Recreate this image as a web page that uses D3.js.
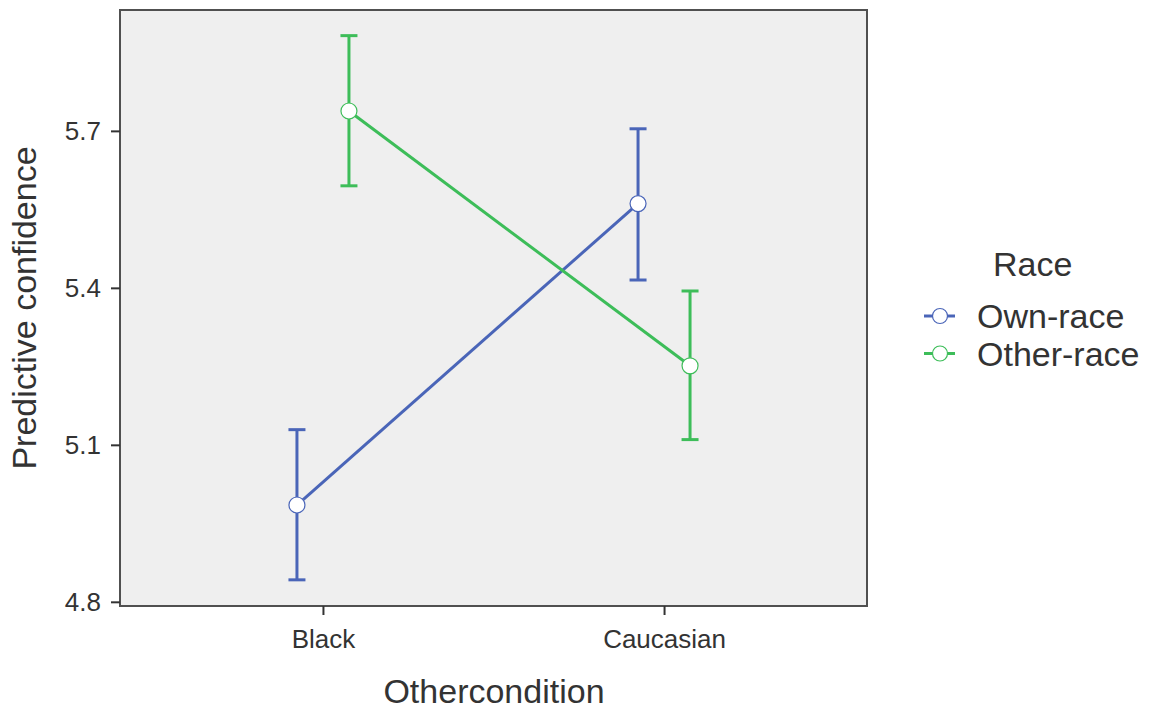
<!DOCTYPE html>
<html lang="en">
<head>
    <meta charset="UTF-8">
    <title>Predictive confidence by Othercondition and Race</title>
    <script src="https://d3js.org/d3.v7.min.js"></script>
    <style>
        body, html {
            margin: 0;
            padding: 0;
            background: #ffffff;
        }
        text {
            font-family: "Liberation Sans", Arial, Helvetica, sans-serif;
        }
    </style>
</head>
<body>
    <div id="chart"></div>
    <script>
    (function() {
        const width = 1151;
        const height = 709;

        // data
        const conditions = ["Black", "Caucasian"];
        const races = ["Own-race", "Other-race"];
        const raceColors = ["#4a65b8", "#3dbd59"];
        const ownMeans = [4.985, 5.561];
        const ownLower = [4.842, 5.415];
        const ownUpper = [5.129, 5.704];
        const otherMeans = [5.738, 5.251];
        const otherLower = [5.595, 5.110];
        const otherUpper = [5.882, 5.394];
        const yTicks = [4.8, 5.1, 5.4, 5.7];

        const series = [
            { race: races[0], color: raceColors[0], dodge: -26, means: ownMeans, lo: ownLower, hi: ownUpper },
            { race: races[1], color: raceColors[1], dodge: 26, means: otherMeans, lo: otherLower, hi: otherUpper }
        ];

        const plot = { left: 120, right: 867, top: 10, bottom: 606 };

        const svg = d3.select("#chart")
            .append("svg")
            .attr("width", width)
            .attr("height", height);

        const x = d3.scalePoint()
            .domain(conditions)
            .range([plot.left, plot.right])
            .padding(0.595);

        const y = d3.scaleLinear()
            .domain([4.792, 5.931])
            .range([plot.bottom, plot.top]);

        // panel background
        svg.append("rect")
            .attr("x", plot.left)
            .attr("y", plot.top)
            .attr("width", plot.right - plot.left)
            .attr("height", plot.bottom - plot.top)
            .attr("fill", "#efefef")
            .attr("stroke", "#505050")
            .attr("stroke-width", 2);

        // axes
        const yAxis = svg.append("g")
            .attr("transform", `translate(${plot.left},0)`)
            .call(d3.axisLeft(y).tickValues(yTicks).tickFormat(d3.format(".1f")).tickSize(9).tickPadding(10));

        const xAxis = svg.append("g")
            .attr("transform", `translate(0,${plot.bottom})`)
            .call(d3.axisBottom(x).tickSize(9).tickPadding(15));

        [yAxis, xAxis].forEach(g => {
            g.attr("font-size", null).attr("font-family", null);
            g.select(".domain").remove();
            g.selectAll(".tick line").attr("stroke", "#333").attr("stroke-width", 2);
            g.selectAll(".tick text")
                .attr("fill", "#333")
                .style("font-size", "26px");
        });

        // axis titles
        svg.append("text")
            .attr("x", 494)
            .attr("y", 703)
            .attr("text-anchor", "middle")
            .style("font-size", "34px")
            .attr("fill", "#333")
            .text("Othercondition");

        svg.append("text")
            .attr("transform", `translate(36,${(plot.top + plot.bottom) / 2}) rotate(-90)`)
            .attr("text-anchor", "middle")
            .style("font-size", "34px")
            .attr("fill", "#333")
            .text("Predictive confidence");

        // lines, error bars, points
        const capHalf = 8.5;
        series.forEach(s => {
            const g = svg.append("g");
            const pts = conditions.map((c, i) => ({ x: x(c) + s.dodge, i: i }));

            g.append("path")
                .datum(pts)
                .attr("fill", "none")
                .attr("stroke", s.color)
                .attr("stroke-width", 3)
                .attr("d", d3.line().x(d => d.x).y(d => y(s.means[d.i])));

            pts.forEach(p => {
                g.append("line")
                    .attr("x1", p.x).attr("x2", p.x)
                    .attr("y1", y(s.lo[p.i])).attr("y2", y(s.hi[p.i]))
                    .attr("stroke", s.color).attr("stroke-width", 3);
                [s.lo[p.i], s.hi[p.i]].forEach(v => {
                    g.append("line")
                        .attr("x1", p.x - capHalf).attr("x2", p.x + capHalf)
                        .attr("y1", y(v)).attr("y2", y(v))
                        .attr("stroke", s.color).attr("stroke-width", 3);
                });
            });

            g.selectAll("circle")
                .data(pts)
                .enter().append("circle")
                .attr("cx", d => d.x)
                .attr("cy", d => y(s.means[d.i]))
                .attr("r", 8)
                .attr("fill", "#ffffff")
                .attr("stroke", s.color)
                .attr("stroke-width", 1.2);
        });

        // legend
        const legend = svg.append("g");
        legend.append("text")
            .attr("x", 993)
            .attr("y", 276)
            .style("font-size", "34px")
            .attr("fill", "#333")
            .text("Race");

        series.forEach((s, i) => {
            const ly = 316 + i * 37.5;
            legend.append("line")
                .attr("x1", 924).attr("x2", 955)
                .attr("y1", ly).attr("y2", ly)
                .attr("stroke", s.color).attr("stroke-width", 3);
            legend.append("circle")
                .attr("cx", 940).attr("cy", ly)
                .attr("r", 7.5)
                .attr("fill", "#ffffff")
                .attr("stroke", s.color)
                .attr("stroke-width", 1.2);
            legend.append("text")
                .attr("x", 977)
                .attr("y", ly + 12)
                .style("font-size", "34px")
                .attr("fill", "#333")
                .text(s.race);
        });
    })();
    </script>
</body>
</html>
